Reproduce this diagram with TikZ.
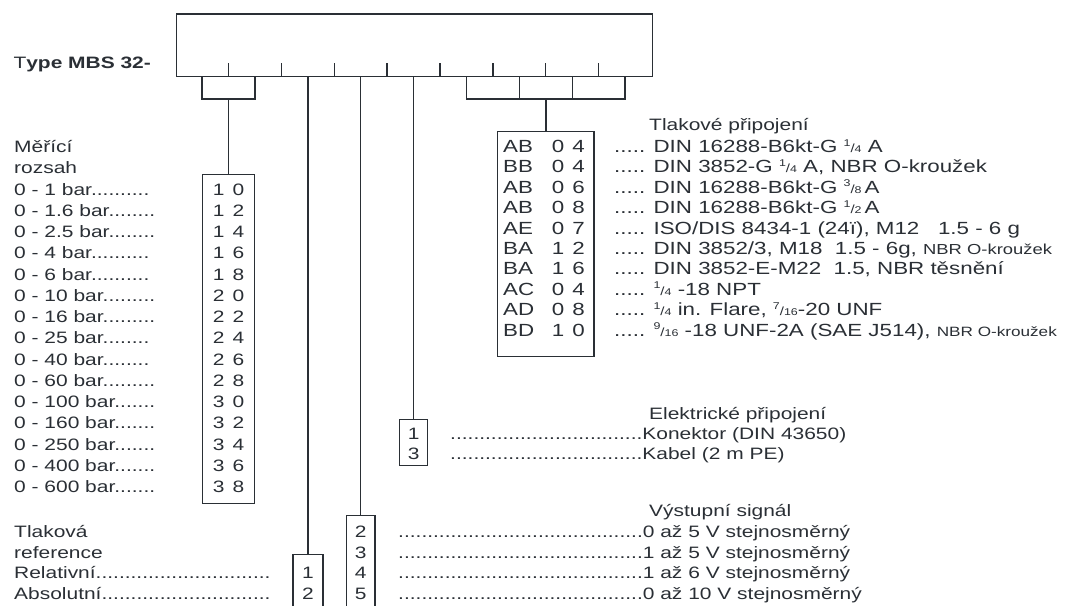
\documentclass[tikz,border=0pt]{standalone}
\usepackage{fontspec}
\setmainfont{Liberation Sans}[FakeStretch=1.27]
\definecolor{ink}{RGB}{42,47,53}
\newcommand\fr[2]{\raisebox{0.36em}{\fontsize{9.8}{10}\selectfont #1}{\fontsize{11.8}{12}\selectfont /}{\fontsize{9.8}{10}\selectfont #2}}
\newcommand\smtx[2]{{\fontsize{#1}{18}\selectfont #2}}
\newcommand\cd[2]{#1\hspace{8pt}#2}
\begin{document}
\begin{tikzpicture}[x=1pt,y=-1pt,
  ln/.style={draw=ink, line width=1.4pt},
  txt/.style={text=ink, inner sep=0pt, font=\fontsize{16.5}{20}\selectfont},
  ptxt/.style={text=ink, inner sep=0pt, font=\fontsize{17.6}{20}\selectfont},
  codebox/.style={draw=ink, line width=1.4pt, inner sep=0pt}]
\useasboundingbox (0,0) rectangle (1073,605);

% main code box
\node[codebox, anchor=north west, minimum width=475.8pt, minimum height=62.7pt] (code) at (175.7,13.3) {};
\node[txt, anchor=base west] (type) at (13.3,68.3) {T\textbf{ype MBS 32-}};
\foreach \k in {1,...,8} \draw[ln] ({175.7+52.87*\k},76) -- ++(0,-12.7);

% left bracket (measuring range)
\draw[ln] (202.1,76) |- (255,99) -- (255,76);
\coordinate (brL) at (228.6,99);
\node[codebox, anchor=north, minimum width=51.8pt, minimum height=329.3pt] (rngbox) at (228.6,173.7) {};
\draw[ln] (brL) -- (rngbox.north);

% right bracket (pressure connection)
\draw[ln] (466.4,76) |- (625.1,99) -- (625.1,76);
\draw[ln] (519.3,76) -- (519.3,99);
\draw[ln] (572.2,76) -- (572.2,99);
\coordinate (brR) at (545.8,99);
\node[codebox, anchor=north, minimum width=96.6pt, minimum height=225pt] (pbox) at (545.8,131) {};
\draw[ln] (brR) -- (pbox.north);

% single lines
\coordinate (sRef) at (307.9,76);
\coordinate (sSig) at (360.7,76);
\coordinate (sEl) at (413.6,76);
\node[codebox, anchor=north, minimum width=30pt, minimum height=70pt] (refbox) at (307.9,554) {};
\node[codebox, anchor=north, minimum width=28.7pt, minimum height=110pt] (sigbox) at (360.7,515) {};
\node[codebox, anchor=north, minimum width=28pt, minimum height=45.5pt] (elbox) at (413.6,419) {};
\draw[ln] (sRef) -- (refbox.north);
\draw[ln] (sSig) -- (sigbox.north);
\draw[ln] (sEl) -- (elbox.north);

% measuring range list
\node[txt, anchor=base west] (mr1) at (14,152) {Měřící};
\node[txt, anchor=base west] (mr2) at (14,173.5) {rozsah};
\foreach \t/\a/\b [count=\i] in {{0 - 1 bar..........}/1/0,{0 - 1.6 bar........}/1/2,{0 - 2.5 bar........}/1/4,{0 - 4 bar..........}/1/6,{0 - 6 bar..........}/1/8,{0 - 10 bar.........}/2/0,{0 - 16 bar.........}/2/2,{0 - 25 bar........}/2/4,{0 - 40 bar........}/2/6,{0 - 60 bar.........}/2/8,{0 - 100 bar.......}/3/0,{0 - 160 bar.......}/3/2,{0 - 250 bar.......}/3/4,{0 - 400 bar.......}/3/6,{0 - 600 bar.......}/3/8} {
  \node[txt, anchor=base west] (rl\i) at (14,{195+21.25*(\i-1)}) {\t};
  \node[txt, anchor=base] (rc\i) at (228.6,{195+21.25*(\i-1)}) {\cd{\a}{\b}};
}

% pressure reference
\node[txt, anchor=base west] (tr1) at (14,537.5) {Tlaková};
\node[txt, anchor=base west] (tr2) at (14,558) {reference};
\node[txt, anchor=base west] (tr3) at (14,578.5) {Relativní..............................};
\node[txt, anchor=base west] (tr4) at (14,599) {Absolutní.............................};
\node[txt, anchor=base] (rf1) at (307.9,578.5) {1};
\node[txt, anchor=base] (rf2) at (307.9,599) {2};

% output signal
\node[txt, anchor=base west] (sgt) at (649,516.5) {Výstupní signál};
\foreach \d/\y in {2/537.5,3/558,4/578.5,5/599} \node[txt, anchor=base] (sd\d) at (360.7,\y) {\d};
\node[txt, anchor=base west] (sg1) at (398,537.5) {..........................................0 až 5 V stejnosměrný};
\node[txt, anchor=base west] (sg2) at (398,558) {..........................................1 až 5 V stejnosměrný};
\node[txt, anchor=base west] (sg3) at (398,578.5) {..........................................1 až 6 V stejnosměrný};
\node[txt, anchor=base west] (sg4) at (398,599) {..........................................0 až 10 V stejnosměrný};

% electrical connection
\node[txt, anchor=base west] (elt) at (649,419) {Elektrické připojení};
\node[txt, anchor=base] (ed1) at (413.6,439.5) {1};
\node[txt, anchor=base] (ed3) at (413.6,459.5) {3};
\node[txt, anchor=base west] (el1) at (450,439.5) {.................................Konektor (DIN 43650)};
\node[txt, anchor=base west] (el2) at (450,459.5) {.................................Kabel (2 m PE)};

% pressure connection
\node[txt, anchor=base west] (pct) at (649,130.5) {Tlakové připojení};
\foreach \a/\b/\c [count=\i] in {AB/0/4,BB/0/4,AB/0/6,AB/0/8,AE/0/7,BA/1/2,BA/1/6,AC/0/4,AD/0/8,BD/1/0} {
  \node[ptxt, anchor=base west] (pa\i) at (503,{152.5+20.4*(\i-1)}) {\a};
  \node[ptxt, anchor=base east] (pn\i) at (585,{152.5+20.4*(\i-1)}) {\cd{\b}{\c}};
}
\node[ptxt, anchor=base west] (pd1) at (614,152.5) {..... DIN 16288-B6kt-G \fr{1}{4} A};
\node[ptxt, anchor=base west] (pd2) at (614,172.9) {..... DIN 3852-G \fr{1}{4} A, NBR O-kroužek};
\node[ptxt, anchor=base west] (pd3) at (614,193.3) {..... DIN 16288-B6kt-G \fr{3}{8}\,A};
\node[ptxt, anchor=base west] (pd4) at (614,213.7) {..... DIN 16288-B6kt-G \fr{1}{2}\,A};
\node[ptxt, anchor=base west] (pd5) at (614,234.1) {..... ISO/DIS 8434-1 (24ï), M12\ \ \ 1.5 - 6 g};
\node[ptxt, anchor=base west] (pd6) at (614,254.5) {..... DIN 3852/3, M18\ \ 1.5 - 6g, \smtx{14.5}{NBR O-kroužek}};
\node[ptxt, anchor=base west] (pd7) at (614,274.9) {..... DIN 3852-E-M22\ \ 1.5, NBR těsnění};
\node[ptxt, anchor=base west] (pd8) at (614,295.3) {..... \fr{1}{4} -18 NPT};
\node[ptxt, anchor=base west] (pd9) at (614,315.7) {..... \fr{1}{4} in. Flare, \fr{7}{16}-20 UNF};
\node[ptxt, anchor=base west] (pd10) at (614,336.1) {..... \fr{9}{16} -18 UNF-2A (SAE J514), \smtx{13.5}{NBR O-kroužek}};
\end{tikzpicture}
\end{document}
